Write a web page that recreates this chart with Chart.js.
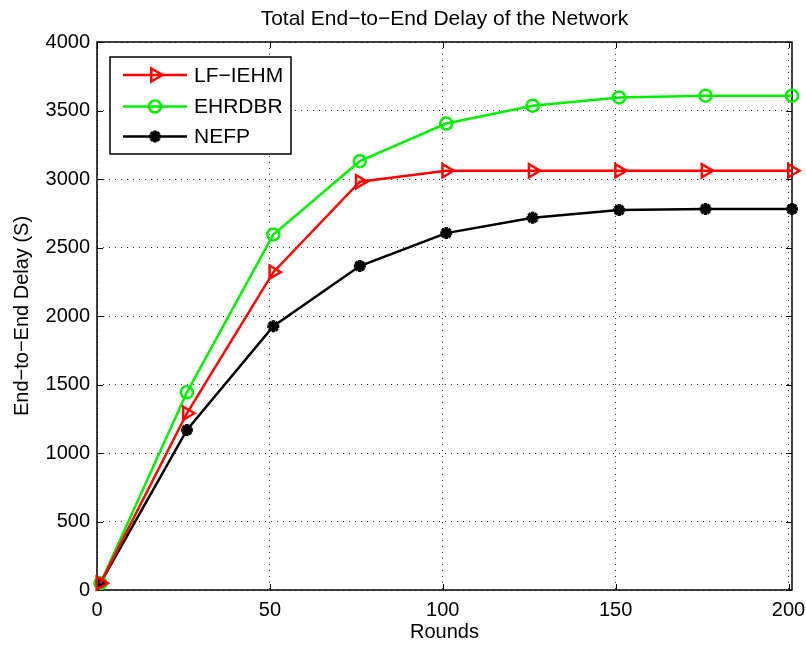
<!DOCTYPE html>
<html>
<head>
<meta charset="utf-8">
<script src="https://cdn.jsdelivr.net/npm/chart.js@4/dist/chart.umd.min.js"></script>
<style>
html,body{margin:0;padding:0;background:#fff;}
#wrap{width:806px;height:645px;position:relative;}
</style>
</head>
<body>
<div id="wrap"><canvas id="c" width="806" height="645"></canvas></div>
<script>
const rounds = [1, 26, 51, 76, 101, 126, 151, 176, 201];
const lfIehm = [50, 1290, 2320, 2980, 3060, 3060, 3060, 3060, 3060];
const ehrdbr = [50, 1443, 2595, 3130, 3405, 3535, 3595, 3608, 3608];
const nefp   = [50, 1168, 1925, 2365, 2605, 2717, 2774, 2781, 2781];
const seriesNames = ['LF\u2212IEHM', 'EHRDBR', 'NEFP'];
const xTicks = [0, 50, 100, 150, 200];
const yTicks = [0, 500, 1000, 1500, 2000, 2500, 3000, 3500, 4000];
const titleText = 'Total End\u2212to\u2212End Delay of the Network';
const xLabel = 'Rounds';
const yLabel = 'End\u2212to\u2212End Delay (S)';

const FONT = "'Liberation Sans', Arial, Helvetica, sans-serif";

function pts(arr){ return rounds.map((r,i)=>({x:r,y:arr[i]})); }

const datasets = [
  {label: seriesNames[0], data: pts(lfIehm), borderColor:'#ff0000', backgroundColor:'rgba(0,0,0,0)',
   pointStyle:'triangle', pointRotation:90, pointRadius:7.5, pointBorderWidth:2.5, pointBorderColor:'#ff0000', pointBackgroundColor:'rgba(0,0,0,0)'},
  {label: seriesNames[1], data: pts(ehrdbr), borderColor:'#00ee00', backgroundColor:'rgba(0,0,0,0)',
   pointStyle:'circle', pointRadius:6, pointBorderWidth:2.5, pointBorderColor:'#00ee00', pointBackgroundColor:'rgba(0,0,0,0)'},
  {label: seriesNames[2], data: pts(nefp), borderColor:'#000000', backgroundColor:'rgba(0,0,0,0)',
   pointStyle:'star', pointRadius:6, pointBorderWidth:3.5, pointBorderColor:'#000000', pointBackgroundColor:'#000000'}
];
datasets.forEach(d=>{ d.borderWidth=2.5; d.tension=0; d.fill=false; d.clip=false; });

const frame = {
  id:'frame',
  beforeDatasetsDraw(chart){
    const {ctx, chartArea:a, scales} = chart;
    ctx.save();
    ctx.strokeStyle='#000'; ctx.lineWidth=1;
    const tl=6;
    ctx.beginPath();
    xTicks.forEach(v=>{
      const px=Math.round(scales.x.getPixelForValue(v))+0.5;
      ctx.moveTo(px,a.bottom); ctx.lineTo(px,a.bottom-tl);
      ctx.moveTo(px,a.top); ctx.lineTo(px,a.top+tl);
    });
    yTicks.forEach(v=>{
      const py=Math.round(scales.y.getPixelForValue(v))+0.5;
      ctx.moveTo(a.left,py); ctx.lineTo(a.left+tl,py);
      ctx.moveTo(a.right,py); ctx.lineTo(a.right-tl,py);
    });
    ctx.stroke();
    ctx.lineWidth=1.5;
    ctx.strokeRect(a.left, a.top, a.right-a.left, a.bottom-a.top);
    ctx.restore();
  },
  afterDraw(chart){
    const ctx=chart.ctx;
    const a=chart.chartArea;
    ctx.save();
    // title centred over the plot area
    ctx.fillStyle='#000'; ctx.font='21px '+FONT; ctx.textAlign='center'; ctx.textBaseline='middle';
    ctx.fillText(titleText,(a.left+a.right)/2,19);
    // legend
    const bx=110, by=57, bw=181, bh=97;
    ctx.fillStyle='#fff'; ctx.fillRect(bx,by,bw,bh);
    ctx.strokeStyle='#000'; ctx.lineWidth=1.5; ctx.strokeRect(bx,by,bw,bh);
    const ys=[75,106.5,136.5];
    chart.data.datasets.forEach((d,i)=>{
      const y=ys[i];
      ctx.strokeStyle=d.borderColor; ctx.lineWidth=2.5; ctx.setLineDash([]);
      ctx.beginPath(); ctx.moveTo(123,y); ctx.lineTo(187,y); ctx.stroke();
      ctx.strokeStyle=d.pointBorderColor; ctx.fillStyle=d.pointBackgroundColor; ctx.lineWidth=d.pointBorderWidth;
      Chart.helpers.drawPoint(ctx,{pointStyle:d.pointStyle, radius:d.pointRadius, rotation:d.pointRotation||0, borderWidth:d.pointBorderWidth},155,y);
      ctx.fillStyle='#000'; ctx.font='21px '+FONT; ctx.textAlign='left'; ctx.textBaseline='middle';
      ctx.fillText(d.label,194,y+1);
    });
    ctx.restore();
  }
};

new Chart(document.getElementById('c'), {
  type:'line',
  data:{datasets},
  options:{
    responsive:false, animation:false, devicePixelRatio:1,
    layout:{padding:{left:0,right:14,top:42,bottom:0}},
    plugins:{
      legend:{display:false},
      tooltip:{enabled:false},
      title:{display:false}
    },
    scales:{
      x:{type:'linear', min:0, max:201,
        afterFit(s){ s.height=55; s.paddingLeft=0; s.paddingRight=0; },
        afterBuildTicks(s){ s.ticks = xTicks.map(v=>({value:v})); },
        ticks:{color:'#000', font:{family:FONT,size:20}, padding:8, includeBounds:false, maxRotation:0, autoSkip:false,
          callback:(v)=>String(v)},
        grid:{color:'rgba(0,0,0,0.8)', lineWidth:1, drawTicks:false, tickLength:0},
        border:{display:false, dash:[1,5]},
        title:{display:true, text:xLabel, color:'#000', font:{family:FONT,size:20}, padding:{top:0,bottom:1}}
      },
      y:{type:'linear', min:0, max:4000,
        afterFit(s){ s.width=97; s.paddingTop=0; s.paddingBottom=0; },
        afterBuildTicks(s){ s.ticks = yTicks.map(v=>({value:v})); },
        ticks:{color:'#000', font:{family:FONT,size:20}, padding:7, autoSkip:false,
          callback:(v)=>String(v)},
        grid:{color:'rgba(0,0,0,0.8)', lineWidth:1, drawTicks:false, tickLength:0},
        border:{display:false, dash:[1,5]},
        title:{display:true, text:yLabel, color:'#000', font:{family:FONT,size:20}, padding:{top:10,bottom:0}}
      }
    }
  },
  plugins:[frame]
});
</script>
</body>
</html>
